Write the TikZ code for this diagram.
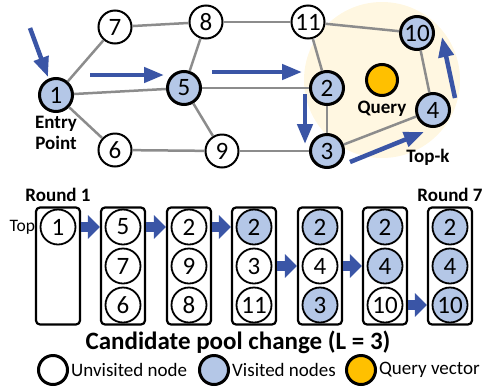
\documentclass[tikz,border=0pt]{standalone}
\usepackage{fontspec}
\setmainfont{Carlito}
\usetikzlibrary{arrows.meta, positioning, calc}

\definecolor{visBlue}{HTML}{B4C7E7}
\definecolor{walkBlue}{HTML}{3A55A6}
\definecolor{queryOrange}{HTML}{FFC000}
\definecolor{edgeGray}{HTML}{8C8C8C}
\definecolor{zoneCream}{HTML}{FFF7E1}

\tikzset{
    node0/.style={circle, draw, line width=2pt, fill=white, inner sep=0pt, minimum size=33pt, font=\fontsize{25}{25}\selectfont},
    node1/.style={node0, fill=visBlue, line width=3pt},
    queryNode/.style={circle, draw, line width=3pt, fill=queryOrange, inner sep=0pt, minimum size=31pt},
    poolNode/.style={circle, draw, line width=1.8pt, inner sep=0pt, minimum size=35pt, font=\fontsize{25}{25}\selectfont},
    poolBox/.style={rectangle, draw, rounded corners=4pt, line width=2.2pt, minimum width=44pt, minimum height=117pt},
    graphEdge/.style={draw=edgeGray, line width=2.5pt},
    walkArrow/.style={-{Triangle[length=20pt, width=15pt]}, draw=walkBlue, fill=walkBlue, line width=4.5pt},
    poolArrow/.style={-{Triangle[length=12pt, width=23pt]}, draw=walkBlue, fill=walkBlue, line width=10pt},
    boldLabel/.style={font=\fontsize{19}{21}\selectfont\bfseries, inner sep=1pt, align=center},
    legendDot/.style={circle, draw, line width=3pt, inner sep=0pt, minimum size=29pt},
    legendText/.style={font=\fontsize{19}{21}\selectfont, inner sep=1pt},
}

\begin{document}
\begin{tikzpicture}[x=1pt, y=-1pt]
    \useasboundingbox (0,0) rectangle (484,389);

    % top-k region
    \fill[zoneCream] (382,80) circle [radius=78pt];

    % graph
    \node[node1] (n1) at (56,95) {1};
    \node[node0] (n7) at (115,27) {7};
    \node[node0] (n8) at (206,22) {8};
    \node[node1] (n5) at (184,88) {5};
    \node[node0] (n6) at (115,150) {6};
    \node[node0] (n9) at (222,151) {9};
    \node[node0] (n11) at (308,22) {11};
    \node[node1] (n2) at (327,88) {2};
    \node[node1] (n3) at (327,151) {3};
    \node[node1] (n4) at (433,110) {4};
    \node[node1] (n10) at (417,33) {10};
    \node[queryNode] (query) at (382,80) {};

    \foreach \a/\b in {n1/n7, n1/n5, n1/n6, n7/n8, n8/n5, n8/n11, n5/n2, n5/n9, n6/n9, n9/n3, n11/n2, n11/n10, n2/n3, n3/n4, n4/n10}
        \draw[graphEdge] (\a) -- (\b);

    \node[boldLabel, below=2pt of n1] (entry) {Entry\\Point};
    \node[boldLabel, below=3pt of query] (querylbl) {Query};
    \node[boldLabel] (topk) at (428,157) {Top-k};

    % search path
    \coordinate (w1s) at (30,28);   \coordinate (w1e) at (48,77);
    \coordinate (w2s) at (90,75);   \coordinate (w2e) at (164,75);
    \coordinate (w3s) at (212,72);  \coordinate (w3e) at (302,72);
    \coordinate (w4s) at (305,94);  \coordinate (w4e) at (305,144);
    \coordinate (w5s) at (350,162); \coordinate (w5e) at (424,132);
    \coordinate (w6s) at (455,98);  \coordinate (w6e) at (442,37);
    \foreach \i in {1,...,6}
        \draw[walkArrow] (w\i s) -- (w\i e);

    % candidate pool
    \node[poolBox] (pool1) at (58,266) {};
    \node[poolNode, fill=white] (p1a) at (58,227) {1};
    \foreach \k/\x/\fa/\a/\fb/\b/\fc/\c in {
        2/123/white/5/white/7/white/6,
        3/189/white/2/white/9/white/8,
        4/254/visBlue/2/white/3/white/11,
        5/320/visBlue/2/white/4/visBlue/3,
        6/385/visBlue/2/visBlue/4/white/10,
        7/450/visBlue/2/visBlue/4/visBlue/10}
    {
        \node[poolBox] (pool\k) at (\x,266) {};
        \node[poolNode, fill=\fa] (p\k a) at (\x,227) {\a};
        \node[poolNode, fill=\fb] (p\k b) at (\x,266) {\b};
        \node[poolNode, fill=\fc] (p\k c) at (\x,305) {\c};
    }

    \draw[poolArrow] (pool1.east |- p1a) -- (pool2.west |- p1a);
    \draw[poolArrow] (pool2.east |- p2a) -- (pool3.west |- p2a);
    \draw[poolArrow] (pool3.east |- p3a) -- (pool4.west |- p3a);
    \draw[poolArrow] (pool4.east |- p4b) -- (pool5.west |- p4b);
    \draw[poolArrow] (pool5.east |- p5b) -- (pool6.west |- p5b);
    \draw[poolArrow] (pool6.east |- p6c) -- (pool7.west |- p6c);

    \node[boldLabel, above=4pt of pool1] (round1) {Round 1};
    \node[boldLabel, above=4pt of pool7] (round7) {Round 7};
    \node[font=\fontsize{17.5}{18}\selectfont, left=1pt of p1a] (toplbl) {Top};

    \node[font=\fontsize{25}{27}\selectfont\bfseries] (caption) at (238,342) {Candidate pool change (L = 3)};

    % legend
    \node[legendDot, fill=white] (leg0) at (53,370) {};
    \node[legendText, right=1pt of leg0] {Unvisited node};
    \node[legendDot, fill=visBlue] (leg1) at (214,370) {};
    \node[legendText, right=1pt of leg1] {Visited nodes};
    \node[legendDot, fill=queryOrange] (leg2) at (361,370) {};
    \node[legendText, right=1pt of leg2] {Query vector};
\end{tikzpicture}
\end{document}
